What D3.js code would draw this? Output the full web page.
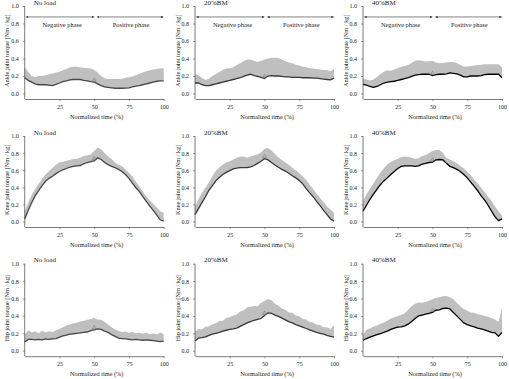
<!DOCTYPE html>
<html>
<head>
<meta charset="utf-8">
<script src="https://cdn.jsdelivr.net/npm/d3@7"></script>
<style>
body { margin: 0; background: #fff; }
svg text { font-family: "Liberation Serif", "Times New Roman", serif; fill: #222; }
</style>
</head>
<body>
<svg id="viz" width="509" height="379"></svg>
<script>
// normalized time grid (%)
var timePct = [0,2.5,5,7.5,10,12.5,15,17.5,20,22.5,25,27.5,30,32.5,35,37.5,40,42.5,45,47.5,50,
               52.5,55,57.5,60,62.5,65,67.5,70,72.5,75,77.5,80,82.5,85,87.5,90,92.5,95,97.5,100];
var panelTitles = ["No load", "20%BM", "40%BM"];
var jointLabels = ["Ankle joint torque [Nm / kg]", "Knee joint torque [Nm / kg]", "Hip joint torque [Nm / kg]"];
var phaseLabels = ["Negative phase", "Positive phase"];
var xTitle = "Normalized time (%)";
var yTicks = [0, 0.2, 0.4, 0.6, 0.8, 1.0];
var xTicks = [25, 50, 75, 100];

// mean (lower edge) and mean + SD (upper edge)
var ankleNoLoadMean = [0.18,0.15,0.13,0.11,0.10,0.10,0.10,0.095,0.09,0.105,0.12,0.135,0.145,0.155,0.16,0.16,0.16,0.15,0.145,0.135,0.13,0.11,0.09,0.075,0.07,0.065,0.06,0.06,0.06,0.062,0.065,0.075,0.085,0.09,0.10,0.11,0.12,0.13,0.14,0.145,0.145];
var ankleNoLoadUpper = [0.30,0.25,0.20,0.19,0.20,0.20,0.21,0.22,0.23,0.24,0.25,0.265,0.28,0.30,0.305,0.305,0.30,0.295,0.29,0.285,0.27,0.24,0.20,0.175,0.165,0.165,0.165,0.165,0.17,0.18,0.185,0.195,0.21,0.225,0.24,0.255,0.265,0.275,0.28,0.29,0.29];
var ankle20Mean = [0.12,0.12,0.10,0.09,0.09,0.10,0.11,0.12,0.13,0.14,0.15,0.16,0.17,0.18,0.195,0.21,0.22,0.205,0.195,0.185,0.17,0.20,0.205,0.20,0.20,0.195,0.19,0.19,0.185,0.185,0.185,0.18,0.18,0.18,0.175,0.175,0.17,0.165,0.16,0.155,0.175];
var ankle20Upper = [0.22,0.21,0.18,0.155,0.17,0.20,0.22,0.245,0.27,0.285,0.29,0.30,0.325,0.345,0.37,0.39,0.39,0.375,0.36,0.375,0.39,0.40,0.41,0.41,0.405,0.39,0.37,0.355,0.345,0.33,0.32,0.305,0.30,0.29,0.285,0.28,0.275,0.27,0.265,0.255,0.28];
var ankle40Mean = [0.105,0.095,0.08,0.07,0.08,0.10,0.12,0.13,0.135,0.14,0.15,0.16,0.17,0.18,0.195,0.21,0.215,0.22,0.22,0.22,0.205,0.215,0.22,0.22,0.225,0.235,0.23,0.225,0.21,0.19,0.19,0.20,0.20,0.20,0.205,0.215,0.22,0.22,0.22,0.22,0.18];
var ankle40Upper = [0.165,0.16,0.15,0.16,0.19,0.22,0.25,0.265,0.26,0.275,0.29,0.305,0.315,0.325,0.35,0.375,0.38,0.375,0.365,0.37,0.375,0.355,0.345,0.35,0.355,0.36,0.36,0.35,0.33,0.305,0.31,0.315,0.32,0.325,0.33,0.335,0.335,0.335,0.335,0.335,0.30];

var kneeNoLoadMean = [0.03,0.13,0.22,0.30,0.36,0.42,0.47,0.505,0.53,0.56,0.585,0.605,0.62,0.635,0.645,0.65,0.655,0.675,0.69,0.70,0.71,0.745,0.725,0.69,0.665,0.645,0.63,0.61,0.585,0.55,0.505,0.45,0.395,0.35,0.29,0.235,0.18,0.13,0.075,0.02,0.005];
var kneeNoLoadUpper = [0.12,0.22,0.31,0.38,0.44,0.50,0.55,0.59,0.625,0.665,0.69,0.70,0.71,0.72,0.73,0.735,0.745,0.765,0.775,0.785,0.825,0.865,0.845,0.80,0.76,0.73,0.69,0.665,0.645,0.61,0.57,0.525,0.465,0.41,0.35,0.29,0.25,0.205,0.165,0.12,0.10];
var knee20Mean = [0.08,0.15,0.22,0.29,0.365,0.42,0.475,0.515,0.55,0.575,0.595,0.615,0.625,0.63,0.63,0.63,0.64,0.655,0.68,0.705,0.735,0.72,0.69,0.66,0.635,0.61,0.59,0.565,0.535,0.51,0.48,0.44,0.385,0.335,0.29,0.235,0.185,0.13,0.08,0.03,0.005];
var knee20Upper = [0.18,0.26,0.335,0.395,0.46,0.53,0.595,0.635,0.665,0.69,0.705,0.725,0.745,0.76,0.76,0.745,0.76,0.775,0.785,0.81,0.85,0.86,0.83,0.79,0.75,0.72,0.69,0.665,0.63,0.60,0.565,0.53,0.485,0.43,0.38,0.325,0.275,0.225,0.175,0.14,0.10];
var knee40Mean = [0.12,0.19,0.26,0.32,0.375,0.43,0.475,0.51,0.55,0.585,0.62,0.645,0.65,0.65,0.65,0.645,0.65,0.67,0.68,0.69,0.695,0.72,0.725,0.72,0.68,0.645,0.63,0.61,0.585,0.55,0.51,0.46,0.41,0.36,0.30,0.25,0.19,0.12,0.055,0.01,0.03];
var knee40Upper = [0.24,0.315,0.38,0.445,0.51,0.57,0.62,0.67,0.695,0.715,0.73,0.755,0.76,0.755,0.745,0.735,0.74,0.765,0.775,0.80,0.825,0.835,0.835,0.80,0.745,0.725,0.705,0.68,0.65,0.62,0.58,0.54,0.49,0.445,0.395,0.345,0.29,0.24,0.175,0.12,0.07];

var hipNoLoadMean = [0.10,0.13,0.13,0.125,0.13,0.125,0.135,0.13,0.135,0.14,0.155,0.17,0.18,0.19,0.195,0.20,0.205,0.21,0.215,0.23,0.24,0.25,0.245,0.225,0.21,0.185,0.165,0.145,0.14,0.135,0.13,0.125,0.13,0.125,0.12,0.125,0.12,0.115,0.11,0.105,0.11];
var hipNoLoadUpper = [0.18,0.235,0.21,0.225,0.20,0.23,0.21,0.225,0.215,0.235,0.25,0.27,0.29,0.30,0.315,0.32,0.335,0.345,0.355,0.365,0.375,0.36,0.355,0.33,0.30,0.27,0.245,0.23,0.215,0.22,0.205,0.215,0.20,0.21,0.195,0.205,0.19,0.20,0.185,0.21,0.19];
var hip20Mean = [0.11,0.145,0.15,0.16,0.175,0.19,0.20,0.21,0.225,0.235,0.245,0.25,0.26,0.28,0.30,0.32,0.335,0.35,0.36,0.37,0.405,0.435,0.43,0.41,0.395,0.375,0.355,0.335,0.32,0.30,0.285,0.27,0.255,0.24,0.225,0.21,0.20,0.19,0.175,0.165,0.155];
var hip20Upper = [0.22,0.25,0.245,0.275,0.28,0.305,0.315,0.34,0.345,0.375,0.385,0.405,0.415,0.45,0.465,0.50,0.505,0.515,0.51,0.55,0.57,0.595,0.58,0.54,0.52,0.485,0.47,0.44,0.435,0.405,0.395,0.365,0.36,0.33,0.325,0.30,0.295,0.27,0.27,0.25,0.29];
var hip40Mean = [0.12,0.14,0.155,0.17,0.185,0.195,0.21,0.225,0.245,0.26,0.27,0.275,0.285,0.305,0.335,0.37,0.40,0.41,0.42,0.43,0.44,0.465,0.47,0.485,0.49,0.48,0.44,0.40,0.36,0.32,0.30,0.285,0.275,0.26,0.25,0.24,0.225,0.21,0.205,0.165,0.21];
var hip40Upper = [0.18,0.24,0.255,0.275,0.29,0.31,0.325,0.345,0.37,0.385,0.40,0.41,0.43,0.47,0.51,0.54,0.555,0.55,0.56,0.575,0.59,0.61,0.615,0.625,0.63,0.615,0.59,0.55,0.51,0.48,0.46,0.44,0.435,0.42,0.41,0.40,0.39,0.375,0.36,0.33,0.49];

// rows = joints, columns = load conditions
var panels = [
  [[ankleNoLoadMean, ankleNoLoadUpper], [ankle20Mean, ankle20Upper], [ankle40Mean, ankle40Upper]],
  [[kneeNoLoadMean, kneeNoLoadUpper], [knee20Mean, knee20Upper], [knee40Mean, knee40Upper]],
  [[hipNoLoadMean, hipNoLoadUpper], [hip20Mean, hip20Upper], [hip40Mean, hip40Upper]]
];

// layout
var colX = [24.7, 195, 363], plotW = 139;
var rowTop = [6, 136, 263.7], rowZero = [93.5, 221.5, 350.7], axisGap = 5.5;
var lineColors = ["#474747", "#383838", "#000000"];

var svg = d3.select("#viz");

var defs = svg.append("defs");
defs.append("marker")
  .attr("id", "arrowhead")
  .attr("viewBox", "0 0 6 6")
  .attr("refX", 6).attr("refY", 3)
  .attr("markerWidth", 4).attr("markerHeight", 4)
  .attr("orient", "auto-start-reverse")
  .append("path").attr("d", "M0,0L6,3L0,6Z").attr("fill", "#333");

panels.forEach(function(row, r){
  row.forEach(function(pair, c){
    var x = d3.scaleLinear().domain([0, 100]).range([colX[c], colX[c] + plotW]);
    var y = d3.scaleLinear().domain([0, 1]).range([rowZero[r], rowTop[r]]);
    var baseY = rowZero[r] + axisGap;
    var g = svg.append("g");

    var pts = timePct.map(function(t, i){ return {t: t, m: pair[0][i], u: pair[1][i]}; });

    // SD band
    g.append("path")
      .datum(pts)
      .attr("fill", "#bfbfbf")
      .attr("d", d3.area()
        .x(function(d){ return x(d.t); })
        .y0(function(d){ return y(d.m); })
        .y1(function(d){ return y(d.u); }));
    // mean
    g.append("path")
      .datum(pts)
      .attr("fill", "none")
      .attr("stroke", lineColors[c])
      .attr("stroke-width", 1.3)
      .attr("d", d3.line()
        .x(function(d){ return x(d.t); })
        .y(function(d){ return y(d.m); }));
    // small marker at 50 %
    g.append("path")
      .attr("transform", "translate(" + x(50) + "," + (y(pair[0][20]) - 2) + ")")
      .attr("d", d3.symbol(d3.symbolTriangle, 7)())
      .attr("fill", "none").attr("stroke", "#777").attr("stroke-width", 0.6);

    // y axis
    var yAx = g.append("g")
      .attr("transform", "translate(" + colX[c] + ",0)")
      .call(d3.axisLeft(y).tickValues(yTicks).tickFormat(d3.format(".1f")).tickSize(2).tickPadding(4));
    yAx.select(".domain").remove();
    yAx.selectAll("line").attr("stroke", "#555").attr("stroke-width", 0.6);
    yAx.selectAll("text").attr("font-size", 6).attr("font-family", null).attr("fill", "#222");
    g.append("line")
      .attr("x1", colX[c]).attr("x2", colX[c])
      .attr("y1", rowTop[r]).attr("y2", baseY)
      .attr("stroke", "#444").attr("stroke-width", 0.7);

    // x axis
    var xAx = g.append("g")
      .attr("transform", "translate(0," + baseY + ")")
      .call(d3.axisBottom(x).tickValues(xTicks).tickSizeInner(2).tickSizeOuter(0).tickPadding(3.5));
    xAx.select(".domain").attr("stroke", "#444").attr("stroke-width", 0.7);
    xAx.selectAll("line").attr("stroke", "#555").attr("stroke-width", 0.6);
    xAx.selectAll("text").attr("font-size", 6).attr("font-family", null).attr("fill", "#222");

    // titles
    g.append("text")
      .attr("x", colX[c] + 9).attr("y", rowTop[r] - 1.5)
      .attr("font-size", 7)
      .text(panelTitles[c]);
    g.append("text")
      .attr("x", colX[c] + plotW / 2 + 2.5).attr("y", rowZero[r] + 25.5)
      .attr("text-anchor", "middle")
      .attr("font-size", 6.3)
      .text(xTitle);
    g.append("text")
      .attr("transform", "translate(" + (colX[c] - 15.5) + "," + ((rowTop[r] + rowZero[r]) / 2 + 1) + ") rotate(-90)")
      .attr("text-anchor", "middle")
      .attr("font-size", 6.3)
      .text(jointLabels[r]);

    // phase arrows on the ankle row
    if (r === 0) {
      var ay = y(0.875);
      [[0.9, 50], [52, 99.8]].forEach(function(seg, k){
        g.append("line")
          .attr("x1", x(seg[0])).attr("x2", x(seg[1]))
          .attr("y1", ay).attr("y2", ay)
          .attr("stroke", "#333").attr("stroke-width", 0.6)
          .attr("marker-start", "url(#arrowhead)")
          .attr("marker-end", "url(#arrowhead)");
        g.append("text")
          .attr("x", x(k === 0 ? 27 : 76.5)).attr("y", ay + 10)
          .attr("text-anchor", "middle")
          .attr("font-size", 6.4)
          .text(phaseLabels[k]);
      });
    }
  });
});
</script>
</body>
</html>
